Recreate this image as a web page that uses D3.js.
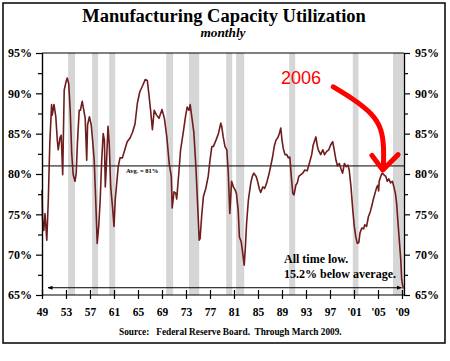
<!DOCTYPE html>
<html>
<head>
<meta charset="utf-8">
<script src="https://cdn.jsdelivr.net/npm/d3@7"></script>
<style>
  body { margin: 0; background: #fff; }
  text { font-family: "Liberation Serif", "Times New Roman", serif; font-weight: bold; }
</style>
</head>
<body>
<div id="chart"></div>
<script>
// x axis ticks every 4 years
const tickYears = [1949, 1953, 1957, 1961, 1965, 1969, 1973, 1977, 1981, 1985, 1989, 1993, 1997, 2001, 2005, 2009];
const tickLabels = ['49', '53', '57', '61', '65', '69', '73', '77', '81', '85', '89', '93', '97', "'01", "'05", "'09"];
const pctTicks = [65, 70, 75, 80, 85, 90, 95];
const pctMinor = [67.5, 72.5, 77.5, 82.5, 87.5, 92.5];

// recession shading
const recessionStart = [1953.35, 1957.35, 1960.2, 1969.7, 1973.5, 1979.7, 1981.35, 1990.2, 2000.8, 2007.5];
const recessionEnd   = [1954.5, 1958.35, 1961.2, 1970.85, 1975.2, 1980.7, 1982.7, 1991.2, 2001.75, 2009.2];

const avgUtil = 81;

// capacity utilization, %
const obsYear = [
  1949.0, 1949.1, 1949.3, 1949.5, 1949.8, 1950.05, 1950.3, 1950.6, 1950.7, 1951.0,
  1951.3, 1951.55, 1951.7, 1952.0, 1952.2, 1952.45, 1952.7, 1953.0, 1953.2, 1953.45,
  1953.7, 1953.95, 1954.2, 1954.5, 1954.7, 1954.9, 1955.2, 1955.4, 1955.7, 1955.9,
  1956.2, 1956.45, 1956.6, 1956.9, 1957.2, 1957.4, 1957.7, 1957.95, 1958.2, 1958.45,
  1958.7, 1958.95, 1959.2, 1959.4, 1959.55, 1959.7, 1960.0, 1960.2, 1960.45, 1960.8,
  1961.0, 1961.2, 1961.4, 1961.7, 1962.0, 1962.4, 1962.8, 1963.2, 1963.7, 1964.1,
  1964.5, 1964.9, 1965.3, 1965.8, 1966.2, 1966.55, 1966.8, 1967.1, 1967.4, 1967.7,
  1968.1, 1968.5, 1969.0, 1969.4, 1969.8, 1970.2, 1970.55, 1970.7, 1971.0, 1971.3,
  1971.45, 1971.8, 1972.1, 1972.55, 1972.95, 1973.2, 1973.5, 1973.7, 1974.0, 1974.3,
  1974.65, 1974.95, 1975.2, 1975.35, 1975.6, 1975.9, 1976.3, 1976.7, 1977.0, 1977.3,
  1977.55, 1978.0, 1978.4, 1978.8, 1978.95, 1979.2, 1979.5, 1979.8, 1980.05, 1980.3,
  1980.6, 1980.9, 1981.2, 1981.4, 1981.7, 1981.9, 1982.2, 1982.45, 1982.7, 1982.9,
  1983.1, 1983.4, 1983.8, 1984.05, 1984.3, 1984.7, 1985.0, 1985.2, 1985.45, 1985.8,
  1986.1, 1986.45, 1986.8, 1987.1, 1987.45, 1987.7, 1988.0, 1988.3, 1988.55, 1988.8,
  1989.0, 1989.2, 1989.5, 1989.8, 1990.05, 1990.3, 1990.55, 1990.8, 1991.0, 1991.3,
  1991.55, 1991.8, 1992.1, 1992.45, 1992.8, 1993.2, 1993.55, 1993.95, 1994.2, 1994.65,
  1994.9, 1995.05, 1995.45, 1995.8, 1996.1, 1996.45, 1996.8, 1997.1, 1997.45, 1997.7,
  1998.0, 1998.25, 1998.55, 1998.8, 1999.1, 1999.4, 1999.7, 2000.0, 2000.2, 2000.5,
  2000.8, 2001.05, 2001.3, 2001.55, 2001.8, 2002.0, 2002.3, 2002.6, 2002.8, 2003.1,
  2003.4, 2003.7, 2003.95, 2004.2, 2004.5, 2004.8, 2005.0, 2005.1, 2005.2, 2005.45,
  2005.7, 2006.0, 2006.3, 2006.55, 2006.8, 2007.1, 2007.4, 2007.65, 2007.9, 2008.1,
  2008.3, 2008.55, 2008.8, 2008.95, 2009.2
];
const capUtil = [
  78.0, 74.3, 73.0, 75.1, 71.8, 76.8, 83.8, 88.6, 87.3, 88.6,
  87.1, 84.2, 83.0, 84.5, 84.8, 79.9, 90.4, 91.4, 91.9, 91.2,
  87.9, 82.6, 79.9, 79.1, 80.1, 83.8, 87.9, 87.9, 89.0, 88.2,
  86.9, 81.7, 86.1, 87.1, 86.1, 84.5, 81.7, 76.8, 71.4, 73.5,
  76.8, 81.7, 85.0, 84.2, 78.4, 80.5, 85.9, 83.8, 78.4, 75.5,
  73.5, 76.8, 78.4, 80.9, 82.0, 82.0, 83.0, 84.0, 84.5, 85.2,
  86.2, 88.8, 90.2, 91.0, 91.7, 91.6, 90.0, 87.9, 85.5, 87.9,
  87.3, 86.9, 88.0, 86.9, 84.6, 81.3, 79.7, 75.8, 77.8, 77.6,
  76.9, 80.1, 83.0, 85.2, 87.3, 88.3, 87.9, 88.6, 86.9, 85.2,
  80.9, 76.0, 71.8, 72.0, 74.7, 77.2, 78.2, 79.7, 81.7, 83.4,
  83.4, 84.2, 85.0, 86.3, 85.9, 84.6, 83.4, 83.0, 80.1, 75.1,
  79.1, 78.4, 78.0, 77.6, 75.5, 72.2, 71.6, 70.2, 68.7, 71.0,
  73.9, 76.8, 78.9, 79.7, 80.1, 79.7, 78.9, 78.2, 77.7, 78.4,
  78.2, 78.9, 79.9, 80.9, 82.2, 83.4, 84.2, 84.5, 85.0, 85.7,
  84.2, 83.2, 82.4, 82.4, 82.0, 82.1, 79.7, 77.6, 77.4, 78.6,
  78.9, 79.7, 79.9, 80.1, 80.5, 80.4, 81.3, 82.4, 83.6, 84.6,
  83.4, 83.0, 82.4, 83.0, 82.4, 82.8, 83.0, 83.6, 84.0, 83.0,
  81.7, 81.0, 81.3, 80.7, 80.1, 81.3, 80.9, 81.1, 80.5, 78.4,
  75.5, 73.5, 72.2, 71.4, 71.5, 72.7, 73.3, 73.2, 73.7, 73.5,
  74.7, 75.3, 76.0, 76.8, 77.6, 78.4, 78.6, 77.9, 79.1, 79.7,
  80.1, 79.9, 79.7, 79.1, 79.4, 78.9, 79.1, 78.4, 77.6, 76.4,
  74.3, 71.8, 69.3, 66.9, 65.8
];

var width = 450, height = 361;

var svg = d3.select("#chart").append("svg")
  .attr("width", width)
  .attr("height", height);

var x = d3.scaleLinear().domain([1949, 2009]).range([42, 402]);
var y = d3.scaleLinear().domain([65, 95]).range([295, 53]);
var xRight = x(2009.33);

// outer frame
svg.append("rect")
  .attr("x", 3).attr("y", 3)
  .attr("width", 442).attr("height", 340)
  .attr("fill", "none").attr("stroke", "#000").attr("stroke-width", 1.5);

svg.append("text").attr("x", 224).attr("y", 22)
  .attr("text-anchor", "middle").style("font-size", "18.5px")
  .text("Manufacturing Capacity Utilization");
svg.append("text").attr("x", 223).attr("y", 37)
  .attr("text-anchor", "middle").style("font-size", "13.3px").style("font-style", "italic")
  .text("monthly");

// recession bars
svg.append("g").selectAll("rect")
  .data(recessionStart)
  .enter().append("rect")
  .attr("x", d => x(d))
  .attr("y", y(95))
  .attr("width", (d, i) => x(recessionEnd[i]) - x(d))
  .attr("height", y(65) - y(95))
  .attr("fill", "#d6d6d6");

// frame lines of plot
svg.append("line").attr("x1", x(1949)).attr("x2", xRight).attr("y1", y(95)).attr("y2", y(95))
  .attr("stroke", "#000").attr("stroke-width", 1);
svg.append("line").attr("x1", x(1949)).attr("x2", xRight).attr("y1", y(avgUtil)).attr("y2", y(avgUtil))
  .attr("stroke", "#000").attr("stroke-width", 1);

svg.append("text").attr("x", 126).attr("y", y(avgUtil) + 7)
  .style("font-size", "6.5px").text("Avg. = 81%");

// double arrow near bottom
var defs = svg.append("defs");
defs.append("marker").attr("id", "ah").attr("viewBox", "0 0 10 10")
  .attr("refX", 9).attr("refY", 5).attr("markerWidth", 5).attr("markerHeight", 5)
  .attr("orient", "auto-start-reverse")
  .append("path").attr("d", "M0,1 L10,5 L0,9 Z").attr("fill", "#000");
svg.append("line")
  .attr("x1", x(1950)).attr("x2", x(2008.9))
  .attr("y1", y(65.9)).attr("y2", y(65.9))
  .attr("stroke", "#000").attr("stroke-width", 1)
  .attr("marker-start", "url(#ah)").attr("marker-end", "url(#ah)");

// the series
var line = d3.line()
  .x((d, i) => x(obsYear[i]))
  .y(d => y(d));
svg.append("path")
  .datum(capUtil)
  .attr("d", line)
  .attr("fill", "none")
  .attr("stroke", "#6e1c1c")
  .attr("stroke-width", 1.6)
  .attr("stroke-linejoin", "round");

// axes
var yLeft = svg.append("g").attr("transform", "translate(" + x(1949) + ",0)");
yLeft.call(d3.axisLeft(y).tickValues(pctTicks).tickSize(6).tickFormat(d => d + "%"));
yLeft.append("g").call(d3.axisLeft(y).tickValues(pctMinor).tickSize(4).tickFormat(""));

var yRight = svg.append("g").attr("transform", "translate(" + xRight + ",0)");
yRight.call(d3.axisRight(y).tickValues(pctTicks).tickSize(6).tickFormat(d => d + "%"));
yRight.append("g").call(d3.axisRight(y).tickValues(pctMinor).tickSize(4).tickFormat(""));

var xAxis = svg.append("g").attr("transform", "translate(0," + y(65) + ")");
xAxis.call(d3.axisBottom(x).tickValues(tickYears).tickSize(4).tickFormat((d, i) => tickLabels[i]));
xAxis.selectAll(".tick line").attr("y1", -5);
xAxis.select(".domain").attr("d", "M" + x(1949) + ",0H" + xRight);

svg.selectAll(".domain").attr("stroke", "#000").attr("stroke-width", 1.2);
svg.selectAll(".tick line").attr("stroke", "#000").attr("stroke-width", 1.2);
yLeft.selectAll("text").style("font-size", "12px").attr("fill", "#000").attr("x", -10);
yRight.selectAll("text").style("font-size", "12px").attr("fill", "#000").attr("x", 11);
xAxis.selectAll("text").style("font-size", "11.5px").attr("fill", "#000").attr("dy", "1.25em");
svg.selectAll(".tick text").attr("font-family", null);

// annotations
svg.append("text").attr("x", 284).attr("y", 263).style("font-size", "12px").text("All time low.");
svg.append("text").attr("x", 284).attr("y", 278).style("font-size", "12px").text("15.2% below average.");

svg.append("text").attr("x", 119).attr("y", 335).style("font-size", "9.3px")
  .attr("xml:space", "preserve")
  .text("Source:   Federal Reserve Board.  Through March 2009.");

svg.append("text").attr("x", 281).attr("y", 84)
  .style("font-family", "'Liberation Sans', Arial, sans-serif")
  .style("font-weight", "normal").style("font-size", "18px")
  .attr("fill", "#ff0000").text("2006");

// red arrow, drawn in chart coordinates
var arrowYears = [1997.55, 2000.9, 2004.2, 2005.6, 2006.0, 2005.9];
var arrowPct = [90.8, 89.3, 87.4, 85.6, 83.3, 80.9];
svg.append("path")
  .datum(arrowYears)
  .attr("d", d3.line().x(d => x(d)).y((d, i) => y(arrowPct[i])).curve(d3.curveBasis))
  .attr("fill", "none").attr("stroke", "#ff0000")
  .attr("stroke-width", 5).attr("stroke-linecap", "round");
svg.append("path")
  .datum([2004.0, 2005.8, 2008.35])
  .attr("d", d3.line().x(d => x(d)).y((d, i) => y([82.3, 80.5, 82.4][i])))
  .attr("fill", "none").attr("stroke", "#ff0000")
  .attr("stroke-width", 5).attr("stroke-linecap", "round").attr("stroke-linejoin", "round");
</script>
</body>
</html>
